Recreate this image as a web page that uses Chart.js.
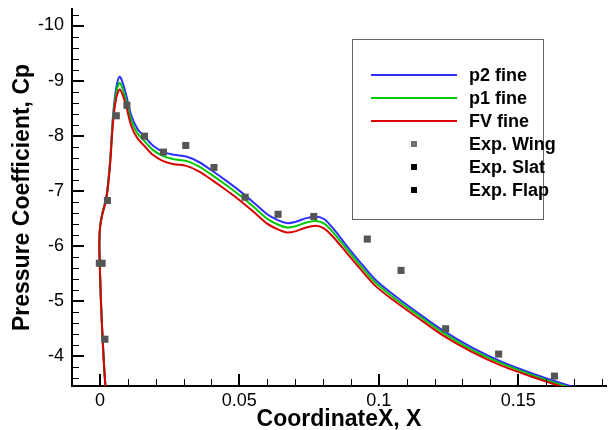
<!DOCTYPE html>
<html>
<head>
<meta charset="utf-8">
<script src="https://cdn.jsdelivr.net/npm/chart.js@4.4.1/dist/chart.umd.min.js"></script>
<style>
  html, body { margin: 0; padding: 0; background: #fff; }
  canvas { display: block; }
</style>
</head>
<body>
<canvas id="cpChart" width="611" height="430"></canvas>
<script>
// DATA

// surface stations shared by the three computed curves
const curveX = [0.0025, 0.0020, 0.0013, 0.0008, 0.0003, 0.0000, -0.0002, 0.0001, 0.0008, 0.0024,
  0.0036, 0.0047, 0.0059, 0.0071, 0.0083, 0.0096, 0.0113, 0.0135, 0.0160, 0.0190,
  0.0225, 0.0265, 0.0310, 0.0355, 0.0400, 0.0450, 0.0500, 0.0550, 0.0600, 0.0640,
  0.0670, 0.0700, 0.0740, 0.0775, 0.0805, 0.0840, 0.0880, 0.0930, 0.0990, 0.1060,
  0.1140, 0.1230, 0.1330, 0.1440, 0.1560, 0.1680, 0.1740];

const cpP2 = [-3.30, -3.45, -4.00, -4.50, -5.10, -5.60, -6.05, -6.36, -6.57, -6.91,
  -7.50, -8.35, -8.88, -9.07, -8.94, -8.70, -8.36, -8.12, -7.98, -7.82,
  -7.71, -7.65, -7.62, -7.52, -7.37, -7.19, -7.00, -6.79, -6.57, -6.46,
  -6.41, -6.43, -6.50, -6.53, -6.48, -6.29, -6.03, -5.72, -5.37, -5.08,
  -4.78, -4.46, -4.16, -3.89, -3.66, -3.46, -3.37];

const cpP1 = [-3.30, -3.45, -4.00, -4.50, -5.10, -5.60, -6.05, -6.35, -6.56, -6.90,
  -7.47, -8.29, -8.79, -8.96, -8.83, -8.60, -8.27, -8.04, -7.90, -7.74,
  -7.63, -7.57, -7.54, -7.44, -7.29, -7.11, -6.92, -6.71, -6.49, -6.38,
  -6.33, -6.35, -6.42, -6.45, -6.40, -6.22, -5.97, -5.66, -5.32, -5.03,
  -4.74, -4.42, -4.12, -3.86, -3.63, -3.43, -3.34];

const cpFV = [-3.30, -3.45, -4.00, -4.50, -5.10, -5.60, -6.05, -6.35, -6.55, -6.88,
  -7.44, -8.23, -8.69, -8.84, -8.72, -8.50, -8.17, -7.95, -7.81, -7.65,
  -7.54, -7.48, -7.45, -7.35, -7.20, -7.02, -6.83, -6.62, -6.40, -6.29,
  -6.24, -6.26, -6.33, -6.36, -6.31, -6.14, -5.90, -5.60, -5.26, -4.98,
  -4.69, -4.37, -4.08, -3.82, -3.60, -3.40, -3.31];

// experiment
const expWingX = [-0.0002, 0.0008, 0.0018, 0.0027, 0.0059, 0.0097, 0.0160, 0.0228, 0.0308,
  0.0409, 0.0521, 0.0639, 0.0767, 0.0959, 0.1080, 0.1240, 0.1430, 0.1630];
const expWingCp = [-5.68, -5.68, -4.30, -6.82, -8.36, -8.55, -7.99, -7.70, -7.82,
  -7.42, -6.88, -6.57, -6.53, -6.12, -5.55, -4.49, -4.03, -3.63];
const expSlatX = [];
const expSlatCp = [];
const expFlapX = [];
const expFlapCp = [];

// axes
const xTicks = [0, 0.05, 0.1, 0.15];
const yTicks = [-10, -9, -8, -7, -6, -5, -4];
const xRange = [-0.01, 0.1815];
const yRange = [-10.3, -3.45];
const xMinorStep = 0.01;
const yMinorStep = 0.2;

const FONT = "'Liberation Sans', Arial, Helvetica, sans-serif";

function toPoints(xs, ys) {
  return xs.map((v, i) => ({ x: v, y: ys[i] }));
}

// INWARD TICK MARKS (tecplot style)

const tickMarks = {
  id: "tickMarks",
  afterDatasetsDraw(chart) {
    const { ctx, chartArea: a, scales: { x, y } } = chart;
    ctx.save();
    ctx.strokeStyle = "#000";

    const nx = Math.round((xRange[1] - xRange[0]) / xMinorStep);
    for (let i = 0; i <= nx; i++) {
      const v = xRange[0] + i * xMinorStep;
      const major = xTicks.some(t => Math.abs(t - v) < 1e-6);
      const px = Math.round(x.getPixelForValue(v));
      if (px <= a.left + 1 || px > a.right) continue;
      ctx.lineWidth = major ? 2 : 1;
      ctx.beginPath();
      ctx.moveTo(major ? px : px + 0.5, a.bottom);
      ctx.lineTo(major ? px : px + 0.5, a.bottom - (major ? 12 : 7));
      ctx.stroke();
    }

    const ny = Math.round((yRange[1] - yRange[0]) / yMinorStep);
    for (let i = 0; i <= ny; i++) {
      const v = -10.2 + i * yMinorStep;
      if (v > yRange[1]) break;
      const major = yTicks.some(t => Math.abs(t - v) < 1e-6);
      const py = Math.round(y.getPixelForValue(v));
      ctx.lineWidth = major ? 2 : 1;
      ctx.beginPath();
      ctx.moveTo(a.left, major ? py : py + 0.5);
      ctx.lineTo(a.left + (major ? 12 : 7), major ? py : py + 0.5);
      ctx.stroke();
    }
    ctx.restore();
  }
};

// LEGEND BOX

const boxLegend = {
  id: "boxLegend",
  afterDraw(chart) {
    const ctx = chart.ctx;
    const left = 352, top = 39, w = 191, h = 180;
    ctx.save();
    ctx.fillStyle = "#fff";
    ctx.fillRect(left, top, w, h);
    ctx.strokeStyle = "#666";
    ctx.lineWidth = 1;
    ctx.strokeRect(left + 0.5, top + 0.5, w, h);

    ctx.font = "bold 18px " + FONT;
    ctx.textBaseline = "middle";
    ctx.textAlign = "left";
    chart.data.datasets.forEach((ds, i) => {
      const yy = 75 + i * 23;
      if (ds.showLine) {
        ctx.strokeStyle = ds.borderColor;
        ctx.lineWidth = 2;
        ctx.beginPath();
        ctx.moveTo(371, yy);
        ctx.lineTo(457, yy);
        ctx.stroke();
      } else {
        ctx.fillStyle = i === 3 ? "#707070" : ds.backgroundColor;
        ctx.fillRect(411, yy - 3, 6, 6);
      }
      ctx.fillStyle = "#000";
      ctx.fillText(ds.label, 469, yy + 1);
    });
    ctx.restore();
  }
};

const lineSet = (label, cps, color, order) => ({
  label: label,
  data: toPoints(curveX, cps),
  showLine: true,
  borderColor: color,
  backgroundColor: color,
  borderWidth: 2,
  pointRadius: 0,
  tension: 0.3,
  order: order
});

const pointSet = (label, xs, cps, color) => ({
  label: label,
  data: toPoints(xs, cps),
  showLine: false,
  pointStyle: "rect",
  pointRadius: 5,
  borderWidth: 0,
  backgroundColor: color,
  borderColor: color,
  order: 0
});

new Chart(document.getElementById("cpChart"), {
  type: "scatter",
  data: {
    datasets: [
      lineSet("p2 fine", cpP2, "#2f2fff", 3),
      lineSet("p1 fine", cpP1, "#00c800", 2),
      lineSet("FV fine", cpFV, "#d80000", 1),
      pointSet("Exp. Wing", expWingX, expWingCp, "#555555"),
      pointSet("Exp. Slat", expSlatX, expSlatCp, "#000000"),
      pointSet("Exp. Flap", expFlapX, expFlapCp, "#000000")
    ]
  },
  options: {
    responsive: false,
    animation: false,
    devicePixelRatio: 1,
    layout: { padding: { top: 9, right: 0, left: 0, bottom: 0 } },
    plugins: {
      legend: { display: false },
      tooltip: { enabled: false }
    },
    scales: {
      x: {
        type: "linear",
        min: xRange[0],
        max: xRange[1],
        afterBuildTicks: s => { s.ticks = xTicks.map(v => ({ value: v })); },
        afterFit: s => { s.height = 44; s.paddingLeft = 0; s.paddingRight = 0; },
        grid: { display: false, drawTicks: false },
        border: { display: true, color: "#000", width: 2 },
        ticks: {
          color: "#000",
          padding: 4,
          maxRotation: 0,
          font: { family: FONT, size: 18 },
          callback: v => String(+v.toFixed(4))
        },
        title: {
          display: true,
          text: "CoordinateX, X",
          color: "#000",
          font: { family: FONT, size: 23, weight: "bold", lineHeight: 1 },
          padding: { top: 0, bottom: -1 }
        }
      },
      y: {
        type: "linear",
        reverse: true,
        min: yRange[0],
        max: yRange[1],
        afterBuildTicks: s => { s.ticks = yTicks.map(v => ({ value: v })); },
        afterFit: s => { s.width = 72; s.paddingTop = 0; s.paddingBottom = 0; },
        grid: { display: false, drawTicks: false },
        border: { display: true, color: "#000", width: 2 },
        ticks: {
          color: "#000",
          padding: 8,
          font: { family: FONT, size: 18 },
          callback: v => String(v)
        },
        title: {
          display: true,
          text: "Pressure Coefficient, Cp",
          color: "#000",
          font: { family: FONT, size: 23, weight: "bold", lineHeight: 1.2 },
          padding: { top: 9, bottom: 0 }
        }
      }
    }
  },
  plugins: [tickMarks, boxLegend]
});
</script>
</body>
</html>
